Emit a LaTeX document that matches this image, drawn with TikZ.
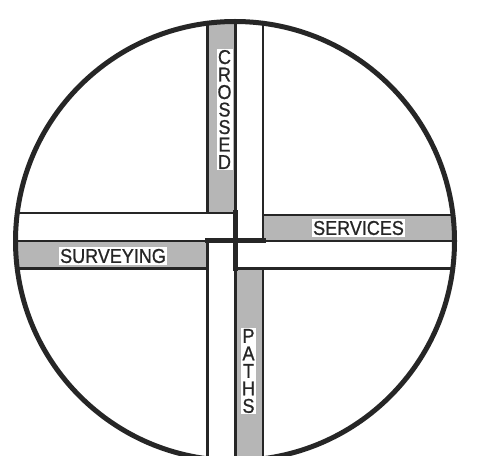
\documentclass[tikz,border=0pt]{standalone}
\usepackage{fontspec}
\newfontfamily\lblfont[FakeStretch=0.9,FakeBold=0.8]{Liberation Sans}
\definecolor{ink}{RGB}{38,38,38}
\definecolor{lane}{RGB}{182,182,182}
\begin{document}
\begin{tikzpicture}[x=1pt,y=1pt,
  laneline/.style={draw=ink,line width=2.2pt},
  heavy/.style={draw=ink,line width=5pt,line cap=rect},
  rim/.style={draw=ink,line width=5pt},
  lbl/.style={fill=white,inner xsep=1pt,inner ysep=1.5pt,text=ink,align=center,
    font=\lblfont\fontsize{20}{17.5}\selectfont}]
\useasboundingbox (0,0) rectangle (494,455);
\clip (0,0) rectangle (494,455);
\fill[white] (0,0) rectangle (494,455);
\coordinate (O) at (235,214);
% lanes and their edges, inside the circle
\begin{scope}
  \clip (O) circle (219.5);
  \fill[lane] (207.5,242) rectangle (235.5,440);
  \fill[lane] (263,214) rectangle (460,240);
  \fill[lane] (235.5,186.5) rectangle (263,-10);
  \fill[lane] (10,214) rectangle (207.5,186.5);
  % top band
  \draw[laneline] (207.5,440) -- (207.5,242);
  \draw[laneline] (235.5,440) -- (235.5,242);
  \draw[laneline] (263,440) -- (263,214);
  % left band
  \draw[laneline] (10,242) -- (235.5,242);
  \draw[laneline] (10,214) -- (207.5,214);
  \draw[laneline] (10,186.5) -- (207.5,186.5);
  % right band
  \draw[laneline] (263,240) -- (460,240);
  \draw[laneline] (263,214) -- (460,214);
  \draw[laneline] (235.5,186.5) -- (460,186.5);
  % bottom band
  \draw[laneline] (207.5,214) -- (207.5,-10);
  \draw[laneline] (235.5,186.5) -- (235.5,-10);
  \draw[laneline] (263,186.5) -- (263,-10);
\end{scope}
% heavy central cross
\draw[heavy] (235.5,242) -- (235.5,186.5);
\draw[heavy] (207.5,214) -- (263,214);
% rim
\draw[rim] (O) circle (219.5);
% labels
\node[lbl] (crossed) at (224.5,345.5) {C\\R\\O\\S\\S\\E\\D};
\node[lbl] (services) at (358.5,227) {SERVICES};
\node[lbl] (surveying) at (113,199) {SURVEYING};
\node[lbl] (paths) at (248.5,84) {P\\A\\T\\H\\S};
\end{tikzpicture}
\end{document}
